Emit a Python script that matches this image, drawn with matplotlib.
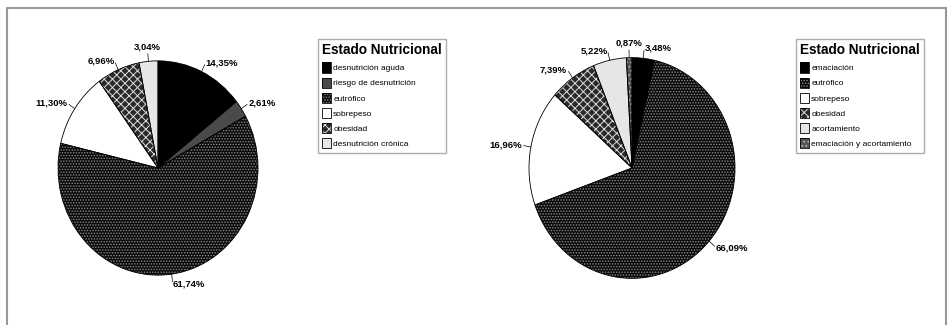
import numpy as np
import matplotlib
matplotlib.use('Agg')
import matplotlib.pyplot as plt
from matplotlib.patches import Patch, Rectangle
from matplotlib.legend_handler import HandlerTuple

plt.rcParams['font.family'] = ['Liberation Sans', 'DejaVu Sans']
plt.rcParams['hatch.linewidth'] = 0.7

# Estado nutricional (%) - primer grupo
left_labels = ['desnutrición aguda', 'riesgo de desnutrición', 'eutrófico',
               'sobrepeso', 'obesidad', 'desnutrición crónica']
left_values = [14.35, 2.61, 61.74, 11.30, 6.96, 3.04]

# Estado nutricional (%) - segundo grupo
right_labels = ['emaciación', 'eutrófico', 'sobrepeso', 'obesidad',
                'acortamiento', 'emaciación y acortamiento']
right_values = [3.48, 66.09, 16.96, 7.39, 5.22, 0.87]

# relleno por categoria: (color, trama, color de trama)
styles = {
    'desnutrición aguda': ('#000000', '', 'white'),
    'emaciación': ('#000000', '', 'white'),
    'riesgo de desnutrición': ('#4a4a4a', '', 'white'),
    'eutrófico': ('#0a0a0a', '......', '#8a8a8a'),
    'sobrepeso': ('#ffffff', '', 'white'),
    'obesidad': ('#2a2a2a', 'xxxx', '#dddddd'),
    'desnutrición crónica': ('#e6e6e6', '', 'white'),
    'acortamiento': ('#e6e6e6', '', 'white'),
    'emaciación y acortamiento': ('#555555', '....', '#bbbbbb'),
}


def fmt(v):
    return f'{v:.2f}%'.replace('.', ',')


def draw_pie(ax, labels, values, radius):
    faces = [styles[l][0] for l in labels]
    # fill, then hatch, then black outline
    wedges, _ = ax.pie(values, colors=faces, startangle=90, counterclock=False,
                       radius=radius, wedgeprops=dict(linewidth=0))
    hatched, _ = ax.pie(values, colors=['none'] * len(values), startangle=90,
                        counterclock=False, radius=radius,
                        wedgeprops=dict(linewidth=0))
    for w, l in zip(hatched, labels):
        _, hatch, hcol = styles[l]
        w.set_edgecolor(hcol)
        w.set_hatch(hatch)
    ax.pie(values, startangle=90, counterclock=False, radius=radius,
           wedgeprops=dict(fill=False, linewidth=0.6, edgecolor='black'))
    for w, v in zip(wedges, values):
        ang = np.deg2rad((w.theta1 + w.theta2) / 2)
        c, s = np.cos(ang), np.sin(ang)
        ax.plot([radius * c, radius * 1.07 * c], [radius * s, radius * 1.07 * s],
                color='black', lw=0.5)
        if abs(c) < 0.1:
            ha = 'center'
        else:
            ha = 'left' if c > 0 else 'right'
        ax.text(radius * 1.09 * c, radius * 1.09 * s, fmt(v),
                ha=ha, va='bottom' if ha == 'center' else 'center',
                fontsize=6.8, fontweight='bold')
    ax.set_aspect('auto')
    ax.set_xlim(-1.5, 1.5)
    ax.set_ylim(-1.4, 1.4)
    ax.axis('off')


def legend_handles(labels):
    handles = []
    for l in labels:
        face, hatch, hcol = styles[l]
        handles.append((Patch(facecolor=face, edgecolor='none'),
                        Patch(facecolor='none', edgecolor=hcol, hatch=hatch, lw=0),
                        Patch(facecolor='none', edgecolor='black', lw=0.6)))
    return handles


W, H = 948, 325
fig = plt.figure(figsize=(W / 100, H / 100), dpi=100)

ax1 = fig.add_axes([(158 - 150) / W, (H - 168 - 150) / H, 300 / W, 300 / H])
draw_pie(ax1, left_labels, left_values, 1.0)

ax2 = fig.add_axes([(632 - 150) / W, (H - 168 - 150) / H, 300 / W, 300 / H])
draw_pie(ax2, right_labels, right_values, 1.03)

for labels, x0 in [(left_labels, 314), (right_labels, 792)]:
    fig.legend(legend_handles(labels), labels, loc='upper left',
               bbox_to_anchor=(x0 / W, 1 - 35 / H),
               handler_map={tuple: HandlerTuple(ndivide=1, pad=0)},
               title='Estado Nutricional',
               title_fontproperties={'weight': 'bold', 'size': 9.8},
               fontsize=6, frameon=True, fancybox=False, edgecolor='#999999',
               handlelength=1.0, handleheight=1.5, handletextpad=0.3,
               labelspacing=0.6, borderpad=0.5, alignment='left')

# marco exterior
fig.add_artist(Rectangle((7 / W, -0.05), (946 - 7) / W, (H - 8) / H + 0.05,
                         transform=fig.transFigure, fill=False,
                         edgecolor='#999999', lw=1.5))

fig.savefig('out.png', dpi=100)
